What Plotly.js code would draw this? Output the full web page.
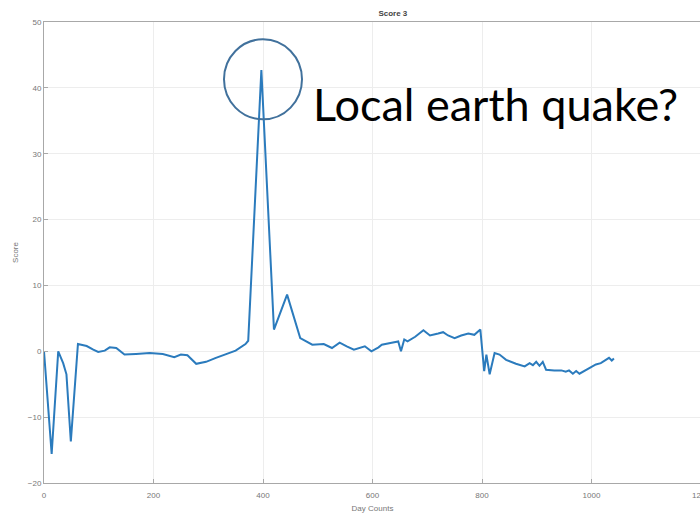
<!DOCTYPE html>
<html>
<head>
<meta charset="utf-8">
<script src="https://cdn.plot.ly/plotly-3.0.1.min.js"></script>
<style>
html, body { margin: 0; padding: 0; overflow: hidden; background: #fff; }
#chart { width: 710px; height: 519px; }
</style>
</head>
<body>
<div id="chart"></div>
<script>
const days = [0,14,26,35,41,49,62,78,90,99,111,120,132,147,168,193,217,238,250,262,278,296,314,332,350,368,373,397,420,444,468,490,511,526,540,553,566,586,598,611,617,635,647,652,658,664,678,693,705,720,729,738,750,762,775,786,794,797,804,808,814,823,832,844,862,878,887,893,899,905,911,917,932,945,953,959,966,972,978,990,999,1008,1017,1026,1032,1037,1041];
const scores = [0,-15.6,0,-1.8,-3.5,-13.7,1.1,0.8,0.25,-0.1,0.1,0.6,0.5,-0.5,-0.4,-0.25,-0.4,-0.9,-0.5,-0.6,-1.9,-1.6,-1.0,-0.4,0.1,1.1,1.6,42.7,3.3,8.6,2.0,1.0,1.1,0.5,1.3,0.76,0.25,0.76,0,0.6,1.0,1.3,1.5,0,1.8,1.5,2.2,3.2,2.4,2.7,2.9,2.4,2.0,2.4,2.7,2.5,3.0,3.3,-3.0,-0.5,-3.5,-0.25,-0.5,-1.3,-1.9,-2.3,-1.8,-2.1,-1.6,-2.2,-1.6,-2.8,-2.9,-2.9,-3.1,-2.9,-3.4,-3.0,-3.4,-2.8,-2.4,-2.0,-1.8,-1.3,-1.0,-1.4,-1.1];
const xTicks = [0,200,400,600,800,1000,1200];
const yTicks = [-20,-10,0,10,20,30,40,50];
const titleText = "Score 3";
const xLabel = "Day Counts";
const yLabel = "Score";
const noteText = "Local earth quake?";

const trace = {
  x: days, y: scores, type: 'scatter', mode: 'lines',
  line: { color: '#2b7bbd', width: 2 },
  hoverinfo: 'skip'
};

const axisCommon = {
  showline: true, linecolor: '#a8a8a8', linewidth: 1, mirror: true,
  showgrid: true, gridcolor: '#ededed', gridwidth: 1,
  zeroline: false,
  ticks: 'inside', ticklen: 4, tickcolor: '#a8a8a8',
  ticklabeloverflow: 'allow',
  tickfont: { family: 'Liberation Sans, Arial, sans-serif', size: 8, color: '#777' }
};

const layout = {
  width: 710, height: 519,
  margin: { l: 44, r: 9, t: 22, b: 36 },
  paper_bgcolor: '#fff', plot_bgcolor: '#fff',
  showlegend: false,
  title: { text: '<b>' + titleText + '</b>', font: { family: 'Liberation Sans, Arial, sans-serif', size: 8, color: '#444' },
           x: 0.531, xref: 'paper', y: 0.979, yref: 'container', xanchor: 'center' },
  xaxis: Object.assign({}, axisCommon, {
    range: [0, 1200.01], tickmode: 'array', tickvals: xTicks,
    ticklabelstandoff: 4,
    title: { text: xLabel, font: { family: 'Liberation Sans, Arial, sans-serif', size: 8, color: '#777' }, standoff: 6 }
  }),
  yaxis: Object.assign({}, axisCommon, {
    range: [-20, 50], tickmode: 'array', tickvals: yTicks,
    title: { text: yLabel, font: { family: 'Liberation Sans, Arial, sans-serif', size: 8, color: '#777' }, standoff: 8 }
  }),
  shapes: [{
    type: 'circle', xref: 'x', yref: 'y',
    xsizemode: 'pixel', ysizemode: 'pixel',
    xanchor: 400, yanchor: 41.3,
    x0: -39, x1: 39, y0: -40, y1: 40,
    line: { color: '#41719c', width: 2 }
  }],
  annotations: [{
    text: noteText, xref: 'x', yref: 'y', x: 488, y: 37.5,
    xanchor: 'left', yanchor: 'middle', showarrow: false,
    font: { family: 'Lato, Noto Sans, sans-serif', size: 45, color: '#000' }
  }]
};

Plotly.newPlot('chart', [trace], layout, { displayModeBar: false, staticPlot: true });
</script>
</body>
</html>
